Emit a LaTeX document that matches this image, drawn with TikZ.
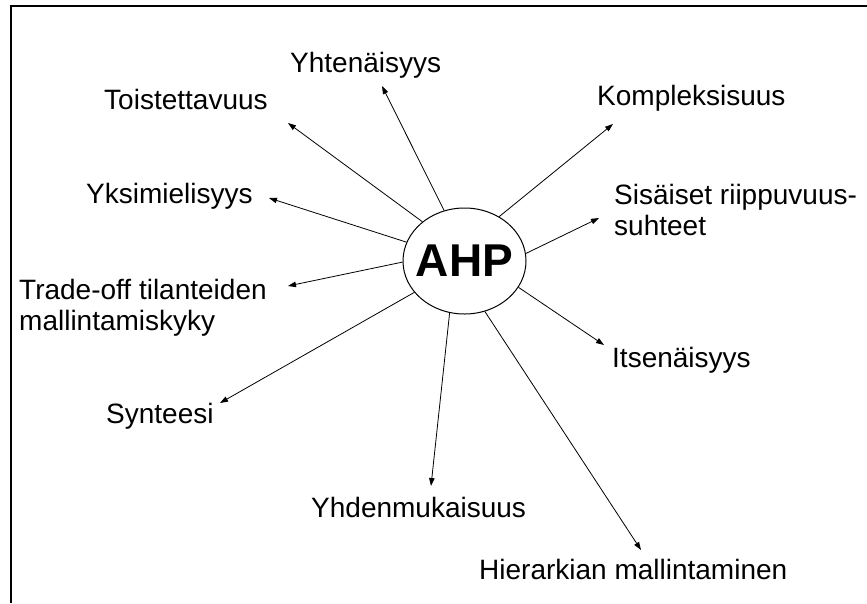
\documentclass[tikz,border=0pt]{standalone}
\usepackage{fontspec}
\setmainfont{Liberation Sans}
\usetikzlibrary{arrows.meta,shapes.geometric}
\begin{document}
\begin{tikzpicture}[x=1pt,y=-1pt,
  lbl/.style={anchor=base west, inner sep=0pt, font=\fontsize{28}{31}\selectfont, align=left},
  arr/.style={-{Triangle[length=8pt,width=5.5pt]}, line width=0.8pt},
  ]
\useasboundingbox (0,0) rectangle (867,603);
% frame
\draw[line width=2pt] (11,603) -- (11,6) -- (867,6);
% centre
\node[ellipse, draw, line width=1pt, minimum width=123pt, minimum height=106pt,
      inner sep=0pt, font=\fontsize{46}{46}\selectfont\bfseries] (ahp) at (464.5,261) {\makebox[0pt]{AHP}};
% labels (two-line labels are placed by the baseline of their last line)
\node[lbl] (yht) at (290,72) {Yhtenäisyys};
\node[lbl] (toi) at (104,109) {Toistettavuus};
\node[lbl] (yks) at (86,203) {Yksimielisyys};
\node[lbl] (tra) at (19,330) {Trade-off tilanteiden\\mallintamiskyky};
\node[lbl] (syn) at (106,423) {Synteesi};
\node[lbl] (yhd) at (311,517) {Yhdenmukaisuus};
\node[lbl] (hie) at (479,579) {Hierarkian mallintaminen};
\node[lbl] (kom) at (597,105) {Kompleksisuus};
\node[lbl] (sis) at (614,235) {Sisäiset riippuvuus-\\suhteet};
\node[lbl] (its) at (612,367) {Itsenäisyys};
% arrow tips
\coordinate (tyht) at (382,86);
\coordinate (ttoi) at (288,123);
\coordinate (tyks) at (269,198);
\coordinate (ttra) at (288,286);
\coordinate (tsyn) at (220,403);
\coordinate (tyhd) at (431,486);
\coordinate (thie) at (641,550);
\coordinate (tkom) at (613,124);
\coordinate (tsis) at (599,218);
\coordinate (tits) at (604,345);
% connectors
\draw[arr] (ahp.112.9) -- (tyht);
\draw[arr] (ahp.137.5) -- (ttoi);
\draw[arr] (ahp.162.3) -- (tyks);
\draw[arr] (ahp.181) -- (ttra);
\draw[arr] (ahp.212.9) -- (tsyn);
\draw[arr] (ahp.254.1) -- (tyhd);
\draw[arr] (ahp.292.9) -- (thie);
\draw[arr] (ahp.52.7) -- (tkom);
\draw[arr] (ahp.7.5) -- (tsis);
\draw[arr] (ahp.334.5) -- (tits);
\end{tikzpicture}
\end{document}
